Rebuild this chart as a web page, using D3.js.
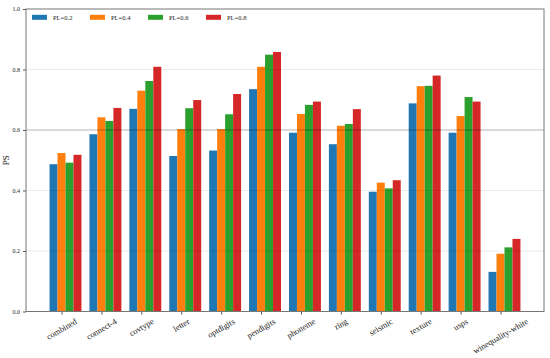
<!DOCTYPE html>
<meta charset="utf-8">
<style>
body { margin: 0; background: #fff; }
text { font-family: "Liberation Serif", "Times New Roman", serif; fill: #222; }
</style>
<svg width="550" height="358"></svg>
<script src="https://cdn.jsdelivr.net/npm/d3@7"></script>
<script>

// Data
var categories = ["combined", "connect-4", "covtype", "letter", "optdigits", "pendigits",
                  "phoneme", "ring", "seismic", "texture", "usps", "winequality-white"];
var seriesNames = ["PL=0.2", "PL=0.4", "PL=0.6", "PL=0.8"];
var pl02 = [0.487, 0.586, 0.670, 0.514, 0.532, 0.735, 0.591, 0.553, 0.396, 0.688, 0.591, 0.131];
var pl04 = [0.524, 0.642, 0.730, 0.603, 0.603, 0.809, 0.653, 0.614, 0.426, 0.745, 0.646, 0.191];
var pl06 = [0.492, 0.630, 0.762, 0.672, 0.652, 0.849, 0.683, 0.620, 0.407, 0.746, 0.709, 0.212];
var pl08 = [0.518, 0.673, 0.809, 0.699, 0.719, 0.858, 0.694, 0.669, 0.434, 0.780, 0.694, 0.240];
var yTicks = [0.0, 0.2, 0.4, 0.6, 0.8, 1.0];
var colors = ["#1f77b4", "#ff7f0e", "#2ca02c", "#d62728"];

var series = [pl02, pl04, pl06, pl08];

var svg = d3.select("svg"),
    margin = {top: 9, right: 6, bottom: 46.5, left: 26},
    width = 550 - margin.left - margin.right,
    height = 358 - margin.top - margin.bottom;

var g = svg.append("g").attr("transform", "translate(" + margin.left + "," + margin.top + ")");

// bars sit at i-0.3 .. i+0.5 with width 0.2, tick at i
var barW = 0.2;
var x = d3.scaleLinear().domain([-0.89, 12.09]).range([0, width]);
var y = d3.scaleLinear().domain([0, 1]).range([height, 0]);

// bars
series.forEach(function(vals, s) {
  g.selectAll(".bar" + s)
    .data(vals)
    .enter().append("rect")
      .attr("x", function(d, i) { return x(i - 0.3 + s * barW); })
      .attr("width", x(barW) - x(0))
      .attr("y", function(d) { return y(d); })
      .attr("height", function(d) { return y(0) - y(d); })
      .attr("fill", colors[s]);
});

// grid on top of bars
g.selectAll(".grid")
  .data([0.2, 0.4, 0.6, 0.8])
  .enter().append("line")
    .attr("x1", 0).attr("x2", width)
    .attr("y1", function(d) { return y(d); })
    .attr("y2", function(d) { return y(d); })
    .attr("stroke", function(d) { return d === 0.6 ? "rgba(0,0,0,0.3)" : "rgba(0,0,0,0.08)"; })
    .attr("stroke-width", 1);

// y axis
var yAxis = g.append("g")
    .call(d3.axisLeft(y).tickValues(yTicks).tickFormat(d3.format(".1f")).tickSize(3).tickPadding(3));
yAxis.select(".domain").remove();
yAxis.selectAll("text").style("font-size", "6px").style("font-family", "Liberation Serif");
yAxis.selectAll("line").attr("stroke", "#555");

// x axis
var xAxis = g.append("g")
    .attr("transform", "translate(0," + height + ")")
    .call(d3.axisBottom(x).tickValues(d3.range(categories.length)).tickFormat("").tickSize(3));
xAxis.select(".domain").remove();
xAxis.selectAll("line").attr("stroke", "#555");

// rotated category labels, centred under tick like matplotlib rotation=30
var fs = 8.5;
categories.forEach(function(c, i) {
  var t = g.append("text")
      .attr("text-anchor", "middle")
      .attr("dominant-baseline", "central")
      .style("font-size", fs + "px")
      .text(c);
  var L = t.node().getComputedTextLength();
  var h = L * 0.5 + fs * 1.1 * 0.866;
  t.attr("transform", "translate(" + x(i) + "," + (height + 5 + h / 2) + ") rotate(-30)");
});

// frame
g.append("rect")
    .attr("width", width).attr("height", height)
    .attr("fill", "none").attr("stroke", "#777").attr("stroke-width", 1);

// y label
svg.append("text")
    .attr("transform", "translate(9," + (margin.top + height / 2) + ") rotate(-90)")
    .attr("text-anchor", "middle")
    .style("font-size", "9px")
    .text("PS");

// legend
var legend = g.selectAll(".legend")
  .data(seriesNames)
  .enter().append("g")
    .attr("transform", function(d, i) { return "translate(" + (6 + i * 58) + ",8.3)"; });
legend.append("rect")
    .attr("width", 15).attr("height", 5)
    .attr("y", -2.5)
    .attr("fill", function(d, i) { return colors[i]; });
legend.append("text")
    .attr("x", 21)
    .attr("dy", "0.35em")
    .style("font-size", "6.5px")
    .text(function(d) { return d; });

</script>
